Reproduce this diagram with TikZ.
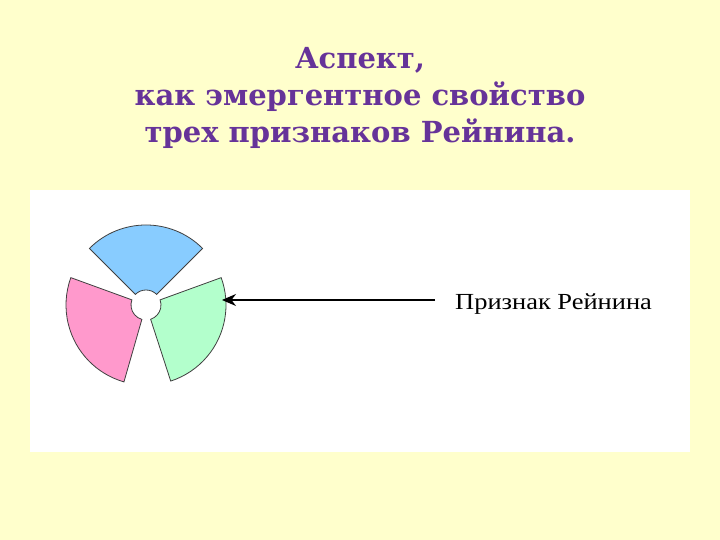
\documentclass[tikz,border=0pt]{standalone}
\usepackage{fontspec}
\setmainfont{Liberation Serif}
\newfontfamily\titlefont{DejaVu Serif}
\newfontfamily\labelfont[FakeStretch=1.15]{Liberation Serif}
\usetikzlibrary{arrows.meta}
\definecolor{slidebg}{HTML}{FFFFCC}
\definecolor{titlepurple}{HTML}{663399}
\definecolor{partblue}{HTML}{88CCFF}
\definecolor{partpink}{HTML}{FF99CC}
\definecolor{partgreen}{HTML}{B3FFCC}
\tikzset{
    ring-part/.style = {draw=black!75, line width=0.8pt, shift={(146,235)}},
    title-text/.style = {text=titlepurple, font=\titlefont\bfseries\fontsize{29}{37}\selectfont, align=center},
    label-text/.style = {font=\labelfont\fontsize{23}{25}\selectfont, anchor=west, inner sep=0pt},
}
\newcommand{\ringpart}[3]{%
  \filldraw[ring-part, fill=#3] (#1:15) arc[start angle=#1, end angle=#2, radius=15]
    -- (#2:80) arc[start angle=#2, end angle=#1, radius=80] -- cycle;}

\begin{document}
\begin{tikzpicture}[x=1pt,y=1pt]
\useasboundingbox (0,0) rectangle (720,540);
\fill[slidebg] (0,0) rectangle (720,540);
\fill[white] (30,88) rectangle (690,350);
\node[title-text] (title) at (360,442) {Аспект,\\как эмергентное свойство\\трех признаков Рейнина.};
% the three parts
\ringpart{45}{135}{partblue}
\ringpart{160}{254}{partpink}
\ringpart{-72}{20}{partgreen}
\coordinate (tip) at (222,240);
\node[label-text] (lbl) at (455,236) {Признак Рейнина};
\draw[line width=1.4pt, shorten <=20pt, -{Stealth[length=14pt,width=12pt]}] (lbl.west |- tip) -- (tip);
\end{tikzpicture}
\end{document}
